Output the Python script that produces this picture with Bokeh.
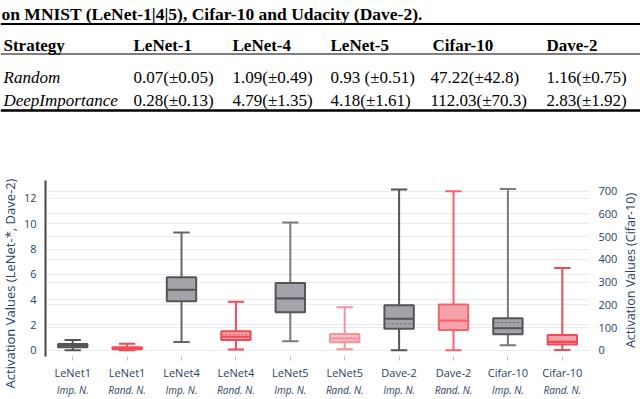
import math
from bokeh.plotting import figure
from bokeh.models import (Range1d, LinearAxis, FixedTicker, Span, Grid,
                          ColumnDataSource, Plot)
from bokeh.layouts import column, row
from bokeh.embed import file_html
from bokeh.resources import INLINE
from bokeh.core.properties import value

# ---------------- table data ----------------
table_title = "on MNIST (LeNet-1|4|5), Cifar-10 and Udacity (Dave-2)."
table_header = ["Strategy", "LeNet-1", "LeNet-4", "LeNet-5", "Cifar-10", "Dave-2"]
row_random = ["Random", "0.07(±0.05)", "1.09(±0.49)", "0.93 (±0.51)", "47.22(±42.8)", "1.16(±0.75)"]
row_deepimp = ["DeepImportance", "0.28(±0.13)", "4.79(±1.35)", "4.18(±1.61)", "112.03(±70.3)", "2.83(±1.92)"]

# ---------------- chart data ----------------
models = ["LeNet1", "LeNet1", "LeNet4", "LeNet4", "LeNet5", "LeNet5",
          "Dave-2", "Dave-2", "Cifar-10", "Cifar-10"]
strategies = ["Imp. N.", "Rand. N.", "Imp. N.", "Rand. N.", "Imp. N.", "Rand. N.",
              "Imp. N.", "Rand. N.", "Imp. N.", "Rand. N."]
value_axis = ["left", "left", "left", "left", "left", "left", "left", "left", "right", "right"]
whisker_low = [0.0, 0.0, 0.65, 0.05, 0.72, 0.08, 0.0, 0.0, 22, 1]
box_q1 = [0.24, 0.08, 3.87, 0.80, 3.00, 0.63, 1.70, 1.60, 70, 25]
box_median = [0.37, 0.16, 4.78, 1.07, 4.10, 0.92, 2.49, 2.33, 97, 36]
box_q3 = [0.50, 0.24, 5.78, 1.50, 5.31, 1.28, 3.55, 3.61, 141, 67]
whisker_high = [0.81, 0.52, 9.30, 3.84, 10.10, 3.40, 12.70, 12.57, 709, 362]
box_mean = [0.35, 0.15, 4.80, 1.25, 4.15, 1.00, 2.09, 2.41, 121, 42]

left_ticks = [0, 2, 4, 6, 8, 10, 12]
right_ticks = [0, 100, 200, 300, 400, 500, 600, 700]
left_title = "Activation Values (LeNet-*, Dave-2)"
right_title = "Activation Values (Cifar-10)"

# ---------------- styles ----------------
GRAY_LINE, GRAY_FILL = "#555558", "#a3a3a9"
RED_LINE, RED_FILL = "#f04b57", "#f7a3aa"
LRED_LINE, LRED_FILL = "#f4939a", "#f9c2c6"
box_line = [GRAY_LINE, RED_LINE, GRAY_LINE, RED_LINE, GRAY_LINE, LRED_LINE,
            GRAY_LINE, "#f2646d", GRAY_LINE, RED_LINE]
box_fill = [GRAY_FILL, RED_FILL, GRAY_FILL, RED_FILL, GRAY_FILL, LRED_FILL,
            GRAY_FILL, RED_FILL, GRAY_FILL, RED_FILL]
wh_color = ["#555555", RED_LINE, "#666666", RED_LINE, "#7a7a7a", LRED_LINE,
            "#555555", "#f2646d", "#7a7a7a", RED_LINE]
TXT = "#2a3f5f"
FONT = "Open Sans"
SERIF = "Liberation Serif"
HAS_FRAME_ALIGN = "frame_align" in Plot.properties()


def bare_fig(w, h, xr, yr):
    f = figure(width=w, height=h, x_range=xr, y_range=yr, x_axis_type=None,
               y_axis_type=None, output_backend="svg", toolbar_location=None,
               min_border=0, outline_line_color=None)
    f.xgrid.visible = False
    f.ygrid.visible = False
    if HAS_FRAME_ALIGN:
        f.frame_align = False
    return f


# ---------------- table figure ----------------
W = 640
TH = 120
CH = 399 - TH
t = bare_fig(W, TH, Range1d(0, W), Range1d(TH, 0))

col_x = [3, 133, 232, 330, 432, 546]
val_x = [133, 232, 330, 430, 546]
t.text(x=[1], y=[13], text=[table_title], text_font=value(SERIF), text_font_size="17.5px",
       text_font_style="bold", text_baseline="alphabetic", text_color="black")
t.text(x=col_x, y=[45] * 6, text=table_header, text_font=value(SERIF),
       text_font_size="17px", text_font_style="bold", text_baseline="alphabetic", text_color="black")
for yy, rw in ((77, row_random), (100, row_deepimp)):
    t.text(x=[col_x[0]], y=[yy], text=[rw[0]], text_font=value(SERIF),
           text_font_size="17px", text_font_style="italic", text_baseline="alphabetic",
           text_color="black")
    t.text(x=val_x, y=[yy] * 5, text=rw[1:], text_font=value(SERIF),
           text_font_size="17px", text_baseline="alphabetic", text_color="black")
t.add_layout(Span(location=23.5, dimension="width", line_color="black", line_width=2))
t.add_layout(Span(location=53.5, dimension="width", line_color="black", line_width=1))
t.add_layout(Span(location=110, dimension="width", line_color="black", line_width=2.5))

# ---------------- axis title strips ----------------
SW = 20
lt = bare_fig(SW, CH, Range1d(0, SW), Range1d(0, CH))
lt.text(x=[9.5], y=[399 - 283], text=[left_title], angle=math.pi / 2, text_align="center",
        text_baseline="middle", text_font=value(FONT), text_font_size="13px", text_color=TXT)
rt = bare_fig(SW, CH, Range1d(0, SW), Range1d(0, CH))
rt.text(x=[10], y=[399 - 270], text=[right_title], angle=math.pi / 2, text_align="center",
        text_baseline="middle", text_font=value(FONT), text_font_size="12.5px", text_color=TXT)

# ---------------- chart figure ----------------
N = len(models)
xs = list(range(N))
p = figure(width=W - 2 * SW, height=CH, x_range=Range1d(-0.5, N - 0.5),
           y_range=Range1d(-0.495, 13.42),
           x_axis_type=None, output_backend="svg", toolbar_location=None,
           min_border_top=60, min_border_left=36 - SW, min_border_right=44 - SW,
           min_border_bottom=42, outline_line_color=None)
if HAS_FRAME_ALIGN:
    p.frame_align = False
p.extra_y_ranges = {"cifar": Range1d(-27.6, 746.8)}

GRID = "#e8ebf3"
yax = p.yaxis[0]
yax.ticker = FixedTicker(ticks=left_ticks)
yax.axis_line_color = "#444444"
yax.axis_line_width = 2
yax.major_tick_line_color = None
yax.minor_tick_line_color = None
yax.major_label_text_font = FONT
yax.major_label_text_font_size = "11px"
yax.major_label_text_color = TXT
yax.major_label_standoff = 3
p.ygrid.grid_line_color = GRID
p.ygrid.ticker = FixedTicker(ticks=left_ticks)

rax = LinearAxis(y_range_name="cifar", ticker=FixedTicker(ticks=right_ticks),
                 axis_line_color=None, major_tick_line_color=None, minor_tick_line_color=None,
                 major_label_text_font=FONT, major_label_text_font_size="11px",
                 major_label_text_color=TXT, major_label_standoff=3)
p.add_layout(rax, "right")
p.add_layout(Grid(dimension=1, ticker=FixedTicker(ticks=right_ticks), y_range_name="cifar",
                  grid_line_color=GRID))

ax1 = LinearAxis(ticker=FixedTicker(ticks=xs),
                 major_label_overrides={i: models[i] for i in xs},
                 axis_line_color=None, major_tick_in=0, major_tick_out=4,
                 major_tick_line_color="#bbbbbb", minor_tick_line_color=None,
                 major_label_text_font=FONT, major_label_text_font_size="11px",
                 major_label_text_color=TXT, major_label_standoff=4)
ax2 = LinearAxis(ticker=FixedTicker(ticks=xs),
                 major_label_overrides={i: strategies[i] for i in xs},
                 axis_line_color=None, major_tick_in=0, major_tick_out=0,
                 major_tick_line_color=None, minor_tick_line_color=None,
                 major_label_text_font=FONT, major_label_text_font_size="10px",
                 major_label_text_font_style="italic",
                 major_label_text_color=TXT, major_label_standoff=0)
p.add_layout(ax1, "below")
p.add_layout(ax2, "below")

BW, CW = 0.54, 0.30
for side, rname in (("left", "default"), ("right", "cifar")):
    idx = [i for i in xs if value_axis[i] == side]
    src = ColumnDataSource(dict(
        x=[xs[i] for i in idx],
        xl=[xs[i] - BW / 2 for i in idx], xr=[xs[i] + BW / 2 for i in idx],
        cl=[xs[i] - CW / 2 for i in idx], cr=[xs[i] + CW / 2 for i in idx],
        lo=[whisker_low[i] for i in idx], q1=[box_q1[i] for i in idx],
        med=[box_median[i] for i in idx], q3=[box_q3[i] for i in idx],
        hi=[whisker_high[i] for i in idx], mean=[box_mean[i] for i in idx],
        line=[box_line[i] for i in idx], fill=[box_fill[i] for i in idx],
        wc=[wh_color[i] for i in idx]))
    kw = dict(source=src, y_range_name=rname)
    p.segment(x0="x", x1="x", y0="lo", y1="q1", line_color="wc", line_width=2, **kw)
    p.segment(x0="x", x1="x", y0="q3", y1="hi", line_color="wc", line_width=2, **kw)
    p.segment(x0="cl", x1="cr", y0="lo", y1="lo", line_color="wc", line_width=2, **kw)
    p.segment(x0="cl", x1="cr", y0="hi", y1="hi", line_color="wc", line_width=2, **kw)
    p.vbar(x="x", width=BW, bottom="q1", top="q3", fill_color="fill", line_color="line",
           line_width=2, **kw)
    p.segment(x0="xl", x1="xr", y0="med", y1="med", line_color="line", line_width=2, **kw)
    p.segment(x0="xl", x1="xr", y0="mean", y1="mean", line_color="line", line_width=1,
              line_dash="2 2", line_alpha=0.8, **kw)

layout = column(t, row(lt, p, rt, spacing=0), spacing=0)
open("out.html", "w").write(file_html(layout, INLINE))
